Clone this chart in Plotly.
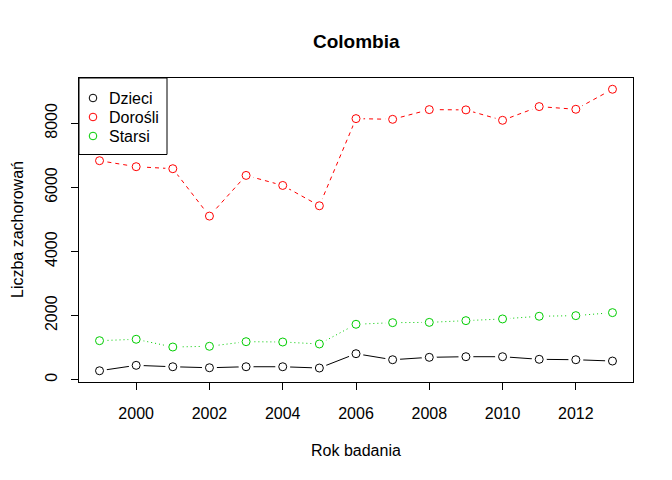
import plotly.graph_objects as go

# data
lata = list(range(1999, 2014))
dzieci = [281, 450, 406, 375, 406, 406, 366, 813, 625, 700, 719, 719, 638, 625, 584]
dorosli = [6834, 6647, 6584, 5106, 6375, 6062, 5428, 8147, 8125, 8428, 8419, 8094, 8522, 8438, 9063]
starsi = [1219, 1263, 1022, 1044, 1188, 1178, 1116, 1731, 1781, 1790, 1844, 1897, 1981, 2000, 2094]

nazwy = ["Dzieci", "Dorośli", "Starsi"]
kolory = ["#000000", "#FF0000", "#00CD00"]
linie = ["solid", "4px,4px", "1px,3px"]
serie = [dzieci, dorosli, starsi]

# the page body has an 8px margin, so the figure is 8px smaller than the window
OFF = 8
W, H = 672 - OFF, 480 - OFF
# plot box in window pixels: x 79..633, y 78..382
BX0, BX1, BY0, BY1 = 79, 633, 78, 382
L, R, T, B = BX0 - OFF, 672 - BX1, BY0 - OFF, 480 - BY1
pw, ph = BX1 - BX0, BY1 - BY0

def px_x(p):
    return (p - BX0) / pw

def px_y(p):
    return (BY1 - p) / ph

font = "Liberation Sans, Arial, sans-serif"

fig = go.Figure()

# lines first, then white masks (gaps like type="b"), then open circles
for y, c, d in zip(serie, kolory, linie):
    fig.add_trace(go.Scatter(x=lata, y=y, mode="lines",
                             line=dict(color=c, width=1, dash=d),
                             showlegend=False, hoverinfo="skip"))
for y in serie:
    fig.add_trace(go.Scatter(x=lata, y=y, mode="markers",
                             marker=dict(symbol="circle", size=15, color="white",
                                         line=dict(width=0)),
                             showlegend=False, hoverinfo="skip"))
for y, c, n in zip(serie, kolory, nazwy):
    fig.add_trace(go.Scatter(x=lata, y=y, mode="markers", name=n,
                             marker=dict(symbol="circle-open", size=8, color=c,
                                         line=dict(width=1, color=c)),
                             showlegend=False))

# legend box, R style (topleft)
shapes = [dict(type="rect", xref="paper", yref="paper",
               xsizemode="pixel", ysizemode="pixel",
               xanchor=0, yanchor=1, x0=0, x1=88, y0=-76.5, y1=0,
               line=dict(color="black", width=1), fillcolor="white", layer="above")]
annotations = []
for i, (n, c) in enumerate(zip(nazwy, kolory)):
    yy = 98 + i * 19
    shapes.append(dict(type="circle", xref="paper", yref="paper",
                       xsizemode="pixel", ysizemode="pixel",
                       xanchor=px_x(93), yanchor=px_y(yy),
                       x0=-3.8, x1=3.8, y0=-3.8, y1=3.8,
                       line=dict(color=c, width=1), layer="above"))
    annotations.append(dict(text=n, xref="paper", yref="paper",
                            x=px_x(107), y=px_y(yy), xanchor="left", yanchor="middle",
                            showarrow=False, font=dict(size=16, color="black", family=font)))

annotations.append(dict(text="Rok badania", xref="paper", yref="paper",
                        x=0.5, y=px_y(450), xanchor="center", yanchor="middle",
                        showarrow=False, font=dict(size=16, color="black", family=font)))
annotations.append(dict(text="Liczba zachorowań", xref="paper", yref="paper",
                        x=px_x(17), y=0.5, xanchor="center", yanchor="middle", textangle=-90,
                        showarrow=False, font=dict(size=16, color="black", family=font)))
annotations.append(dict(text="<b>Colombia</b>", xref="paper", yref="paper",
                        x=0.5, y=px_y(41), xanchor="center", yanchor="middle",
                        showarrow=False, font=dict(size=19, color="black", family=font)))

fig.update_layout(
    width=W, height=H,
    margin=dict(l=L, r=R, t=T, b=B),
    paper_bgcolor="white", plot_bgcolor="white",
    font=dict(family=font, size=16, color="black"),
    shapes=shapes, annotations=annotations,
    showlegend=False,
)
fig.update_xaxes(range=[1998.44, 2013.56], tickvals=list(range(2000, 2013, 2)),
                 ticks="outside", ticklen=7, tickcolor="black", tickwidth=1,
                 showgrid=False, zeroline=False, showline=True, linecolor="black",
                 linewidth=1, mirror=True, ticklabelstandoff=10)
fig.update_yaxes(range=[-70, 9414], tickvals=[0, 2000, 4000, 6000, 8000],
                 tickangle=-90, ticks="outside", ticklen=7, tickcolor="black", tickwidth=1,
                 showgrid=False, zeroline=False, showline=True, linecolor="black",
                 linewidth=1, mirror=True, ticklabelstandoff=8)

fig.write_html("out.html")
